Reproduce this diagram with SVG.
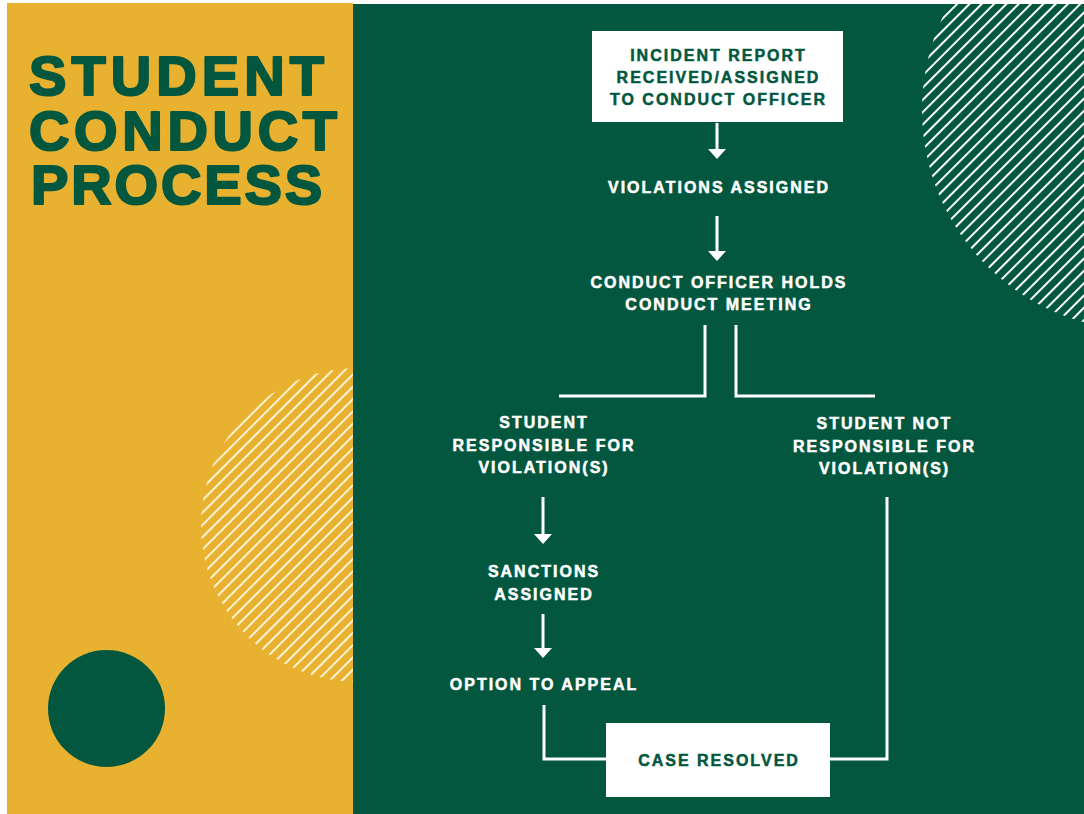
<svg xmlns="http://www.w3.org/2000/svg" width="1084" height="814" viewBox="0 0 1084 814">
  <style>
    .title { font-family: "Liberation Sans", Arial, sans-serif; font-weight: bold; font-size: 56px; fill: #03573F; stroke: #03573F; stroke-width: 2.2px; stroke-linejoin: round; }
    .lbl { font-family: "Liberation Sans", Arial, sans-serif; font-weight: bold; font-size: 16px; letter-spacing: 2px; fill: #FFFFFF; stroke: #FFFFFF; stroke-width: 0.5px; text-anchor: middle; }
    .lbl.dark { fill: #03573F; stroke: #03573F; }
    .box { fill: #FFFFFF; }
    .conn { fill: none; stroke: #FFFFFF; stroke-width: 3; }
  </style>
  <defs>
    <pattern id="hatch" width="8.7" height="8.7" patternUnits="userSpaceOnUse" patternTransform="rotate(45)">
      <rect x="0" y="0" width="2" height="8.7" fill="#FFFFFF"/>
    </pattern>
    <pattern id="hatchY" width="8.7" height="8.7" patternUnits="userSpaceOnUse" patternTransform="rotate(45)">
      <rect x="0" y="0" width="2" height="8.7" fill="#FFF3D6"/>
    </pattern>
    <clipPath id="greenClip">
      <rect x="353" y="4" width="731" height="810"/>
    </clipPath>
    <marker id="ah" viewBox="0 0 10 18" markerWidth="10" markerHeight="18" refX="0" refY="9" orient="auto" markerUnits="userSpaceOnUse">
      <path d="M0,0 L10,9 L0,18 Z" fill="#FFFFFF"/>
    </marker>
  </defs>

  <!-- backgrounds -->
  <rect x="0" y="0" width="1084" height="814" fill="#FFFFFF"/>
  <rect x="7" y="3" width="346" height="811" fill="#E8B12F"/>
  <circle cx="358" cy="525" r="157" fill="url(#hatchY)"/>
  <circle cx="106.5" cy="708.5" r="58.5" fill="#03573F"/>
  <rect x="353" y="4" width="731" height="810" fill="#03573F"/>
  <circle cx="1142" cy="110" r="220" fill="url(#hatch)" clip-path="url(#greenClip)"/>

  <!-- title -->
  <g id="title">
    <text class="title" x="29" y="95" textLength="295" lengthAdjust="spacing">STUDENT</text>
    <text class="title" x="29" y="150" textLength="308" lengthAdjust="spacing">CONDUCT</text>
    <text class="title" x="31" y="204" textLength="291" lengthAdjust="spacing">PROCESS</text>
  </g>

  <!-- connectors -->
  <g id="connectors">
    <line class="conn" x1="717" y1="123" x2="717" y2="149" marker-end="url(#ah)"/>
    <line class="conn" x1="717" y1="216" x2="717" y2="251" marker-end="url(#ah)"/>
    <polyline class="conn" points="705,325 705,396 559,396"/>
    <polyline class="conn" points="736,325 736,396 875,396"/>
    <line class="conn" x1="543" y1="497" x2="543" y2="534" marker-end="url(#ah)"/>
    <line class="conn" x1="543" y1="614" x2="543" y2="648" marker-end="url(#ah)"/>
    <polyline class="conn" points="544,705 544,759 606,759"/>
    <polyline class="conn" points="887,497 887,759 830,759"/>
  </g>

  <!-- nodes -->
  <g id="node-incident">
    <rect class="box" x="592" y="31" width="251" height="91"/>
    <text class="lbl dark" x="718.5" y="61">INCIDENT REPORT</text>
    <text class="lbl dark" x="718.5" y="83">RECEIVED/ASSIGNED</text>
    <text class="lbl dark" x="718.5" y="105">TO CONDUCT OFFICER</text>
  </g>
  <g id="node-violations">
    <text class="lbl" x="719" y="193">VIOLATIONS ASSIGNED</text>
  </g>
  <g id="node-meeting">
    <text class="lbl" x="719" y="288">CONDUCT OFFICER HOLDS</text>
    <text class="lbl" x="719" y="310">CONDUCT MEETING</text>
  </g>
  <g id="node-responsible">
    <text class="lbl" x="544" y="428">STUDENT</text>
    <text class="lbl" x="544" y="451">RESPONSIBLE FOR</text>
    <text class="lbl" x="544" y="473">VIOLATION(S)</text>
  </g>
  <g id="node-not-responsible">
    <text class="lbl" x="884.5" y="429">STUDENT NOT</text>
    <text class="lbl" x="884.5" y="452">RESPONSIBLE FOR</text>
    <text class="lbl" x="884.5" y="474">VIOLATION(S)</text>
  </g>
  <g id="node-sanctions">
    <text class="lbl" x="544" y="577">SANCTIONS</text>
    <text class="lbl" x="544" y="600">ASSIGNED</text>
  </g>
  <g id="node-appeal">
    <text class="lbl" x="544" y="690">OPTION TO APPEAL</text>
  </g>
  <g id="node-resolved">
    <rect class="box" x="606" y="723" width="224" height="74"/>
    <text class="lbl dark" x="719" y="766">CASE RESOLVED</text>
  </g>
</svg>
